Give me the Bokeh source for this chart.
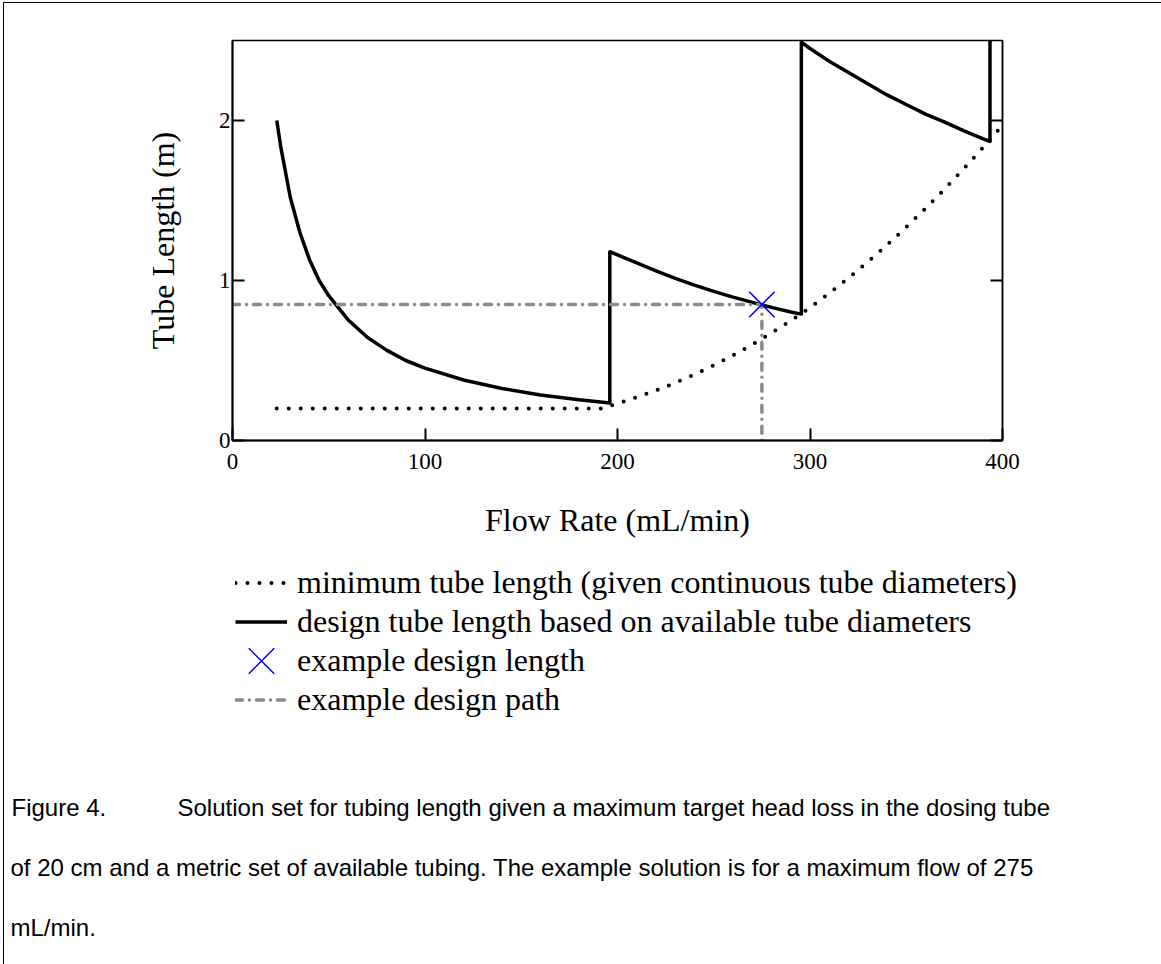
from bokeh.plotting import figure
from bokeh.layouts import column
from bokeh.models import (Range1d, LinearAxis, FixedTicker, Legend, LegendItem, Label)
from bokeh.embed import file_html
from bokeh.resources import INLINE

# ---------------- data ----------------
min_flow = [23, 192, 200, 210, 220, 230, 240, 250, 260, 270, 280, 290, 300,
            310, 320, 330, 340, 350, 360, 370, 380, 390, 400]
min_length = [0.20, 0.20, 0.232, 0.27, 0.313, 0.36, 0.413, 0.47, 0.532, 0.60,
              0.672, 0.748, 0.83, 0.92, 1.016, 1.116, 1.222, 1.334, 1.45,
              1.572, 1.70, 1.832, 1.97]

design_flow = [23, 25, 30, 35, 40, 45, 50, 60, 70, 80, 90, 100, 120, 140, 160,
               180, 196, 196, 210, 220, 230, 240, 250, 260, 270, 275, 280, 290,
               295.5, 295.5, 300, 310, 320, 330, 340, 350, 360, 370, 380, 390,
               393.5, 393.5]
design_length = [2.0, 1.84, 1.52, 1.30, 1.13, 1.0, 0.905, 0.755, 0.645, 0.565,
                 0.50, 0.452, 0.378, 0.325, 0.285, 0.255, 0.235, 1.18, 1.11,
                 1.06, 1.013, 0.971, 0.932, 0.896, 0.863, 0.847, 0.832, 0.803,
                 0.79, 2.49, 2.45, 2.37, 2.30, 2.23, 2.16, 2.10, 2.04, 1.99,
                 1.935, 1.885, 1.87, 4.7]

example_flow = [275]
example_length = [0.85]

path_flow = [0, 275, 275]
path_length = [0.85, 0.85, 0]

x_ticks = [0, 100, 200, 300, 400]
y_ticks = [0, 1, 2]

legend_labels = ["minimum tube length (given continuous tube diameters)",
                 "design tube length based on available tube diameters",
                 "example design length",
                 "example design path"]

caption_lines = [
    "Figure 4.",
    "Solution set for tubing length given a maximum target head loss in the dosing tube",
    "of 20 cm and a metric set of available tubing. The example solution is for a maximum flow of 275",
    "mL/min.",
]

# ---------------- layout constants (page pixels) ----------------
OX, OY = 4, 3                # page position of the drawing area (inside the border)
PAGE_W, PAGE_H = 1161, 964
FL, FT, FR, FB = 232, 40, 1002, 440   # plot frame on the page
SPLIT = 550                  # page y where the lower panel starts
SERIF = "Liberation Serif"
SANS = "Liberation Sans"

W = PAGE_W - OX
H1 = SPLIT - OY
H2 = PAGE_H - SPLIT

BLACK_LINE = dict(line_color="black", line_width=3.5, line_join="round")
DOT_LINE = dict(line_color="black", line_width=4, line_dash="0 12", line_cap="round")
PATH_LINE = dict(line_color="#8a8a8a", line_width=3.5, line_dash="7 7 0 7",
                 line_cap="round")
X_MARK = dict(marker="x", size=36, line_color="blue", line_width=1.5)

# ---------------- main plot ----------------
p = figure(width=W, height=H1, x_range=Range1d(0, 400), y_range=Range1d(0, 2.5),
           output_backend="svg", toolbar_location=None,
           min_border_left=FL - OX, min_border_right=PAGE_W - FR,
           min_border_top=FT - OY, min_border_bottom=SPLIT - FB)
p.frame_align = False
p.xgrid.visible = False
p.ygrid.visible = False
p.outline_line_color = "black"
p.outline_line_width = 1.5
p.background_fill_color = "white"
p.border_fill_color = "white"

for ax, ticks in ((p.xaxis[0], x_ticks), (p.yaxis[0], y_ticks)):
    ax.ticker = FixedTicker(ticks=ticks)
    ax.major_tick_in = 12
    ax.major_tick_out = 0
    ax.minor_tick_in = 0
    ax.minor_tick_out = 0
    ax.axis_line_width = 2
    ax.major_tick_line_width = 2
    ax.major_label_text_font = SERIF
    ax.major_label_text_font_size = "23px"
    ax.major_label_text_color = "black"
    ax.axis_label_text_font = SERIF
    ax.axis_label_text_font_size = "32px"
    ax.axis_label_text_font_style = "normal"
    ax.axis_label_text_color = "black"

p.xaxis[0].axis_label = "Flow Rate (mL/min)"
p.xaxis[0].major_label_standoff = 13
p.xaxis[0].axis_label_standoff = 30
p.yaxis[0].axis_label = "Tube Length (m)"
p.yaxis[0].major_label_standoff = 2
p.yaxis[0].axis_label_standoff = 35

ra = LinearAxis(ticker=FixedTicker(ticks=y_ticks), major_tick_in=12, major_tick_out=0,
                minor_tick_in=0, minor_tick_out=0, axis_line_width=1.5,
                major_tick_line_width=2, major_label_text_color=None)
p.add_layout(ra, "right")

p.line(design_flow, design_length, **BLACK_LINE)
p.line(min_flow, min_length, **DOT_LINE)
p.line(path_flow, path_length, **PATH_LINE)
p.scatter(example_flow, example_length, **X_MARK)

# ---------------- lower panel: legend and caption (page coordinates) ----------------
q = figure(width=W, height=H2, x_range=Range1d(OX, PAGE_W),
           y_range=Range1d(PAGE_H, SPLIT), output_backend="svg",
           toolbar_location=None, x_axis_type=None, y_axis_type=None,
           min_border=0, min_border_left=0, min_border_right=0,
           min_border_top=0, min_border_bottom=0)
q.frame_align = False
q.xgrid.visible = False
q.ygrid.visible = False
q.outline_line_color = None
q.background_fill_color = "white"
q.border_fill_color = "white"

nan = float("nan")
lg_min = q.line([nan], [nan], **DOT_LINE)
lg_design = q.line([nan], [nan], **BLACK_LINE)
lg_path = q.line([nan], [nan], **PATH_LINE)

LEG_X, LEG_BOTTOM, ROW = 235, 719, 39
legend = Legend(items=[
    LegendItem(label=legend_labels[0], renderers=[lg_min]),
    LegendItem(label=legend_labels[1], renderers=[lg_design]),
    LegendItem(label=legend_labels[2], renderers=[]),
    LegendItem(label=legend_labels[3], renderers=[lg_path]),
], location=(LEG_X - OX, PAGE_H - LEG_BOTTOM), orientation="vertical",
    glyph_width=52, glyph_height=ROW, label_height=ROW, spacing=0, padding=0,
    margin=0, label_standoff=10, border_line_color=None, background_fill_alpha=0,
    label_text_font=SERIF, label_text_font_size="32px", label_text_color="black")
q.add_layout(legend)

# the legend's cross sample, drawn full size
q.scatter([LEG_X + 26], [LEG_BOTTOM - 1.5 * ROW], **X_MARK)

cap_pos = [(11, 807), (177, 807), (10, 867), (10, 927)]
for txt, (px, py) in zip(caption_lines, cap_pos):
    q.add_layout(Label(x=px, y=py, text=txt, text_font=SANS, text_font_size="24px",
                       text_color="black", text_align="left",
                       text_baseline="alphabetic"))

layout = column(p, q, spacing=0,
                styles={"margin-left": "3px", "margin-top": "2px",
                        "border-left": "1px solid black",
                        "border-top": "1px solid black"})

open("out.html", "w").write(file_html(layout, INLINE))
